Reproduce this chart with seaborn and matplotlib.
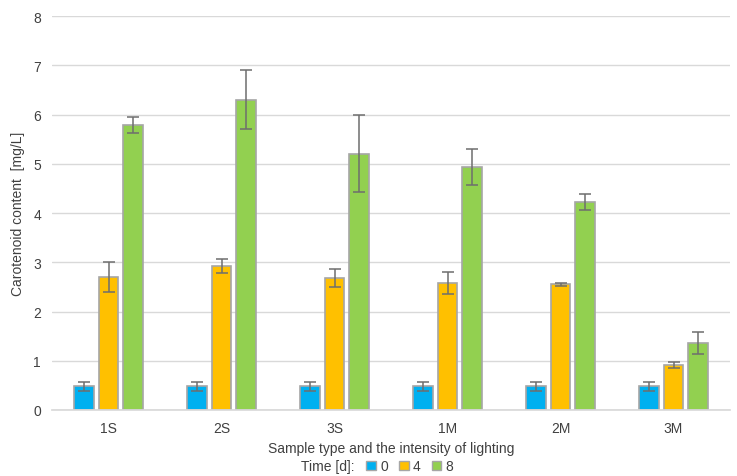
import matplotlib

matplotlib.use("Agg")

import matplotlib.pyplot as plt  # noqa: E402
import numpy as np  # noqa: E402
import pandas as pd  # noqa: E402
import seaborn as sns  # noqa: E402
from matplotlib.patches import Patch  # noqa: E402

samples = ["1S", "2S", "3S", "1M", "2M", "3M"]
times = ["0", "4", "8"]
day0 = [0.48, 0.48, 0.48, 0.48, 0.48, 0.48]
day4 = [2.70, 2.92, 2.68, 2.58, 2.55, 0.92]
day8 = [5.78, 6.30, 5.20, 4.93, 4.22, 1.36]
err0 = [0.09, 0.09, 0.09, 0.09, 0.09, 0.09]
err4 = [0.30, 0.14, 0.18, 0.22, 0.03, 0.06]
err8 = [0.16, 0.60, 0.78, 0.37, 0.16, 0.23]
colors = ["#00B0F0", "#FFC000", "#92D050"]

sns.set_theme(style="whitegrid")
plt.rcParams["font.family"] = ["Liberation Sans", "DejaVu Sans"]

df = pd.DataFrame({
    "sample": samples * 3,
    "time": np.repeat(times, len(samples)),
    "value": day0 + day4 + day8,
    "err": err0 + err4 + err8,
})

fig = plt.figure(figsize=(7.37, 4.77), dpi=100)
ax = fig.add_axes([52 / 737, 66 / 477, 678 / 737, 394 / 477])
sns.barplot(data=df, x="sample", y="value", hue="time", palette=colors,
            saturation=1, width=0.66, gap=0.2, errorbar=None,
            edgecolor="#A6A6A6", linewidth=1.2, legend=False, ax=ax)

# error bars at the bar centres, in hue order
for container, t in zip(ax.containers, times):
    sub = df[df["time"] == t]
    xs = [p.get_x() + p.get_width() / 2 for p in container.patches]
    ax.errorbar(xs, sub["value"], yerr=sub["err"], fmt="none",
                ecolor="#6E6E6E", elinewidth=1.1, capsize=4, capthick=1.1)

ax.set_ylim(0, 8)
ax.set_xlim(-0.5, len(samples) - 0.5)
ax.set_yticks(range(0, 9))
ax.grid(axis="y", color="#D9D9D9", linewidth=1)
ax.grid(axis="x", visible=False)
for s in ["top", "left", "right"]:
    ax.spines[s].set_visible(False)
ax.spines["bottom"].set_color("#D9D9D9")
ax.tick_params(axis="both", labelsize=10, labelcolor="#404040", length=0, pad=8)
ax.set_xlabel("Sample type and the intensity of lighting", fontsize=10,
              color="#404040", labelpad=4)
ax.set_ylabel("Carotenoid content  [mg/L]", fontsize=10, color="#404040",
              labelpad=6)

handles = [Patch(facecolor=c, edgecolor="#A6A6A6") for c in colors]
fig.text(0.408, 0.02, "Time [d]:", fontsize=10, color="#404040", va="center")
fig.legend(handles, times, loc="center left", bbox_to_anchor=(0.48, 0.02),
           ncol=3, frameon=False, fontsize=10, handlelength=0.7,
           handleheight=0.7, handletextpad=0.3, columnspacing=0.8,
           labelcolor="#404040")

fig.savefig("out.png", dpi=100)
